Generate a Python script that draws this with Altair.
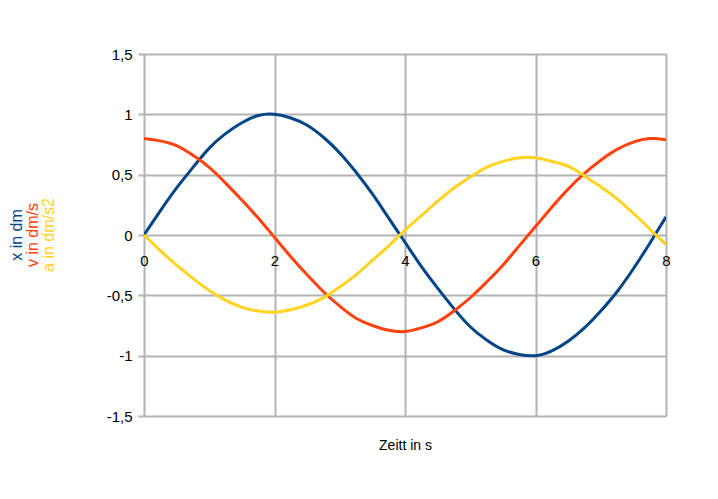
import altair as alt
import pandas as pd

t_vals = [0, 0.25, 0.5, 0.75, 1, 1.25, 1.5, 1.75, 2, 2.25, 2.5, 2.75, 3, 3.25, 3.5, 3.75,
          4, 4.25, 4.5, 4.75, 5, 5.25, 5.5, 5.75, 6, 6.25, 6.5, 6.75, 7, 7.25, 7.5, 7.75, 8]
x_vals = [0, 0.20, 0.39, 0.56, 0.72, 0.84, 0.93, 0.99, 1.00, 0.97, 0.91, 0.81, 0.68, 0.52, 0.34, 0.14,
          -0.06, -0.26, -0.44, -0.61, -0.76, -0.87, -0.95, -0.99, -1.00, -0.96, -0.88, -0.77, -0.63, -0.47, -0.28, -0.07, 0.15]
v_vals = [0.80, 0.78, 0.74, 0.66, 0.56, 0.43, 0.29, 0.14, -0.02, -0.18, -0.33, -0.47, -0.59, -0.69, -0.75, -0.79,
          -0.80, -0.77, -0.72, -0.63, -0.52, -0.39, -0.25, -0.09, 0.07, 0.23, 0.38, 0.51, 0.62, 0.71, 0.77, 0.80, 0.79]
a_vals = [0, -0.13, -0.25, -0.36, -0.46, -0.54, -0.60, -0.63, -0.64, -0.62, -0.58, -0.52, -0.43, -0.33, -0.21, -0.09,
          0.04, 0.16, 0.28, 0.39, 0.48, 0.56, 0.61, 0.64, 0.64, 0.61, 0.57, 0.49, 0.40, 0.30, 0.18, 0.05, -0.08]

series_names = ["x in dm", "v in dm/s", "a in dm/s2"]
series_colors = ["#004586", "#ff420e", "#ffd320"]
x_ticks = [0, 2, 4, 6, 8]
y_ticks = [-1.5, -1, -0.5, 0, 0.5, 1, 1.5]

rows = []
for name, vals in zip(series_names, [x_vals, v_vals, a_vals]):
    for t, v in zip(t_vals, vals):
        rows.append({"t": t, "val": v, "series": name})
df = pd.DataFrame(rows)

W, H = 522, 362
FONT = "Liberation Sans"

xscale = alt.Scale(domain=[0, 8], nice=False, zero=False)
yscale = alt.Scale(domain=[-1.5, 1.5], nice=False)

lines = alt.Chart(df).mark_line(strokeWidth=3, interpolate="natural", clip=True).encode(
    x=alt.X("t:Q", scale=xscale,
            axis=alt.Axis(values=x_ticks, title="Zeitt in s", offset=-181, grid=True,
                          gridColor="#b3b3b3", gridWidth=2, domain=False, ticks=False,
                          labelFontSize=15, labelFont=FONT, labelColor="#000000",
                          labelPadding=18, labelFlush=False,
                          titleFont=FONT, titleFontSize=14, titleFontWeight="normal",
                          titleColor="#000000", titleY=203)),
    y=alt.Y("val:Q", scale=yscale,
            axis=alt.Axis(values=y_ticks, title=None, grid=True, gridColor="#b3b3b3",
                          gridWidth=2, domain=False, ticks=True, tickColor="#b3b3b3",
                          tickWidth=2, tickSize=6, labelFontSize=15, labelFont=FONT,
                          labelColor="#000000", labelPadding=6,
                          labelExpr="replace(toString(datum.value), '.', ',')")),
    color=alt.Color("series:N", scale=alt.Scale(domain=series_names, range=series_colors), legend=None),
    order=alt.Order("t:Q"),
)

lab_df = pd.DataFrame({"name": series_names, "col": series_colors, "px": [-127, -111, -95]})
labels = alt.Chart(lab_df).mark_text(angle=270, align="center", baseline="middle",
                                     fontSize=16, font=FONT).encode(
    x=alt.X("px:Q", scale=None),
    y=alt.value(181),
    text="name:N",
    color=alt.Color("col:N", scale=None),
)

chart = alt.layer(lines, labels).properties(
    width=W, height=H,
    autosize=alt.AutoSizeParams(type="none"),
    padding={"left": 136, "top": 46, "right": 44, "bottom": 75},
).configure_view(stroke=None).configure(background="#ffffff")

chart.save("out.html", embed_options={"renderer": "svg", "actions": False})
